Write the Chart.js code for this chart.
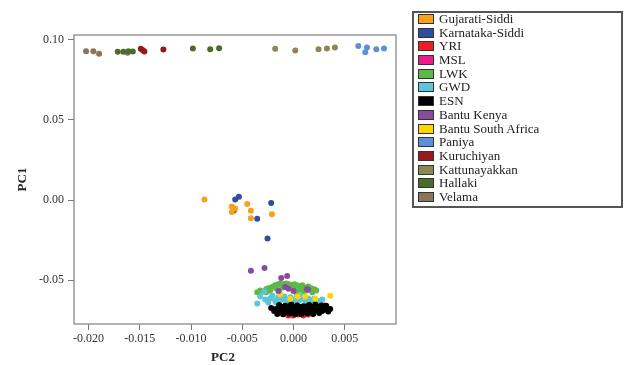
<!DOCTYPE html>
<html>
<head>
<meta charset="utf-8">
<script src="https://cdn.jsdelivr.net/npm/chart.js@4.4.1/dist/chart.umd.min.js"></script>
<style>
  body { margin: 0; background: #fff; }
  #wrap { position: relative; width: 625px; height: 365px; }
  #legend {
    position: absolute; left: 412px; top: 11px; width: 211px; height: 197px;
    border: 2px solid #555; box-sizing: border-box;
    font-family: "Liberation Serif", serif; font-size: 13px; color: #222;
  }
  #legend .items { position: relative; top: -1px; padding-left: 4px; }
  #legend .item { height: 13.7px; line-height: 13.7px; white-space: nowrap; }
  #legend .sw {
    display: inline-block; width: 14px; height: 8px; border: 1px solid #333;
    vertical-align: middle; margin-right: 5px; position: relative; top: -1px;
  }
</style>
</head>
<body>
<div id="wrap">
  <canvas id="pcaChart" width="625" height="365"></canvas>
  <div id="legend"><div class="items"></div></div>
</div>
<script>
// PC2 (x), PC1 (y)
const gujaratiSiddi = [
  [-0.00869, 0.0004], [-0.00602, -0.0040], [-0.00569, -0.0052], [-0.00602, -0.0075],
  [-0.00452, -0.0025], [-0.00416, -0.0067], [-0.00416, -0.0113], [-0.00211, -0.0088],
];
const karnatakaSiddi = [
  [-0.00569, 0.0004], [-0.00533, 0.0021], [-0.00582, -0.0065], [-0.00354, -0.0117],
  [-0.00218, -0.0019], [-0.00254, -0.0240],
];
const yri = [
  [-0.00052, -0.0719], [-0.00003, -0.0719], [0.00046, -0.0713], [0.00095, -0.0719],
  [0.00144, -0.0713], [0.00192, -0.0706], [-0.0011, -0.0706],
];
const msl = [
  [-0.00179, -0.0688], [-0.0013, -0.0700], [-0.00032, -0.0706], [0.00065, -0.0700],
  [0.00163, -0.0694], [0.00261, -0.0663], [0.0030, -0.0656], [-0.00081, -0.0675],
];
const lwk = [
  [-0.00354, -0.0575], [-0.00325, -0.0563], [-0.00296, -0.0569], [-0.00267, -0.0556],
  [-0.00247, -0.0550], [-0.00218, -0.0544], [-0.00198, -0.0538], [-0.00179, -0.0531],
  [-0.00149, -0.0525], [-0.0013, -0.0519], [-0.00101, -0.0525], [-0.00071, -0.0519],
  [-0.00042, -0.0525], [-0.00022, -0.0531], [0.00007, -0.0525], [0.00036, -0.0531],
  [0.00065, -0.0538], [0.00085, -0.0531], [0.00114, -0.0544], [0.00144, -0.0538],
  [0.00173, -0.0550], [0.00202, -0.0556], [0.00222, -0.0563], [-0.00228, -0.0563],
  [-0.00169, -0.0550], [-0.0011, -0.0544], [-0.00052, -0.0550], [0.00007, -0.0556],
  [0.00065, -0.0556], [0.00124, -0.0563], [0.00183, -0.0575], [-0.00267, -0.0575],
  [-0.0014, -0.0569], [0.00026, -0.0575], [0.00095, -0.0569],
];
const gwd = [
  [-0.00354, -0.0644], [-0.00325, -0.0600], [-0.00286, -0.0569], [-0.00276, -0.0619],
  [-0.00228, -0.0613], [-0.00208, -0.0594], [-0.00179, -0.0625], [-0.00149, -0.0606],
  [-0.0012, -0.0619], [-0.00091, -0.0600], [-0.00062, -0.0619], [-0.00032, -0.0606],
  [-0.00003, -0.0625], [0.00026, -0.0606], [0.00056, -0.0625], [0.00085, -0.0613],
  [0.00114, -0.0625], [0.00144, -0.0613], [0.00173, -0.0625], [0.00202, -0.0613],
  [0.00231, -0.0625], [0.00261, -0.0638], [0.0028, -0.0619], [-0.00169, -0.0638],
  [-0.00071, -0.0638], [0.00026, -0.0638], [0.00124, -0.0638], [0.00222, -0.0644],
  [-0.0013, -0.0588], [0.00065, -0.0594], [-0.00247, -0.0638],
];
const esn = [
  [-0.0014, -0.0653], [-0.00081, -0.0659], [-0.00022, -0.0650], [0.00036, -0.0656],
  [0.00095, -0.0662], [0.00153, -0.0653], [0.00212, -0.0650], [0.00271, -0.0656],
  [0.00319, -0.0659],
  [-0.0011, -0.0666], [-0.00052, -0.0663], [0.00007, -0.0669], [0.00065, -0.0666],
  [0.00124, -0.0663], [0.00183, -0.0669], [0.00241, -0.0666],
  [-0.00218, -0.0672], [-0.00169, -0.0678], [-0.0011, -0.0669], [-0.00052, -0.0675],
  [0.00007, -0.0681], [0.00065, -0.0672], [0.00124, -0.0678], [0.00183, -0.0669],
  [0.00241, -0.0675], [0.0030, -0.0672], [0.00358, -0.0678],
  [-0.00159, -0.0684], [-0.00101, -0.0687], [-0.00042, -0.0684], [0.00017, -0.0681],
  [0.00075, -0.0687], [0.00134, -0.0684], [0.00192, -0.0687], [0.00251, -0.0684],
  [0.0031, -0.0681],
  [-0.00189, -0.0691], [-0.0013, -0.0697], [-0.00071, -0.0694], [-0.00013, -0.0700],
  [0.00046, -0.0691], [0.00104, -0.0697], [0.00163, -0.0694], [0.00222, -0.0688],
  [0.0028, -0.0691], [0.00339, -0.0694],
  [-0.00159, -0.0709], [-0.00101, -0.0712], [-0.00042, -0.0706], [0.00017, -0.0712],
  [0.00075, -0.0709], [0.00134, -0.0706], [0.00192, -0.0709], [0.00251, -0.0703],
];
const bantuKenya = [
  [-0.00416, -0.0440], [-0.00283, -0.0423], [-0.00120, -0.0486], [-0.00062, -0.0473],
  [-0.00147, -0.0567], [-0.00081, -0.0542], [-0.00049, -0.0552], [0.00000, -0.0567],
  [0.00141, -0.0558], [0.00131, -0.0554],
];
const bantuSouthAfrica = [
  [-0.0013, -0.0588], [-0.00032, -0.0614], [0.00039, -0.0600], [0.00114, -0.0600],
  [0.00212, -0.0614], [0.00358, -0.0596],
];
const paniya = [
  [0.00632, 0.0960], [0.0070, 0.0921], [0.00717, 0.0950], [0.00808, 0.0939], [0.00883, 0.0944],
];
const kuruchiyan = [
  [-0.0149, 0.0942], [-0.0147, 0.0933], [-0.01455, 0.0925], [-0.0127, 0.0938],
];
const kattunayakkan = [
  [-0.00179, 0.0942], [0.00017, 0.0931], [0.00244, 0.0940], [0.00326, 0.0944], [0.00404, 0.0950],
];
const hallaki = [
  [-0.01715, 0.0923], [-0.0166, 0.0923], [-0.01611, 0.0927], [-0.01568, 0.0925],
  [-0.00982, 0.0944], [-0.00813, 0.0940], [-0.00726, 0.0945],
];
const velama = [
  [-0.02024, 0.0927], [-0.01953, 0.0927], [-0.01897, 0.0911], [-0.0162, 0.0917],
];

const grupos = [
  { nome: "Gujarati-Siddi", pontos: gujaratiSiddi, cor: "#F9A01B", ordem: 1 },
  { nome: "Karnataka-Siddi", pontos: karnatakaSiddi, cor: "#2F4E9F", ordem: 1 },
  { nome: "YRI", pontos: yri, cor: "#EE1C24", ordem: 5 },
  { nome: "MSL", pontos: msl, cor: "#EC1C8D", ordem: 5 },
  { nome: "LWK", pontos: lwk, cor: "#5DB947", ordem: 4 },
  { nome: "GWD", pontos: gwd, cor: "#5BC5DB", ordem: 3 },
  { nome: "ESN", pontos: esn, cor: "#000000", ordem: 2 },
  { nome: "Bantu Kenya", pontos: bantuKenya, cor: "#8A4A9E", ordem: 1 },
  { nome: "Bantu South Africa", pontos: bantuSouthAfrica, cor: "#FFD400", ordem: 1 },
  { nome: "Paniya", pontos: paniya, cor: "#5F8FD5", ordem: 1 },
  { nome: "Kuruchiyan", pontos: kuruchiyan, cor: "#96191C", ordem: 1 },
  { nome: "Kattunayakkan", pontos: kattunayakkan, cor: "#8C8753", ordem: 1 },
  { nome: "Hallaki", pontos: hallaki, cor: "#4B6B2B", ordem: 1 },
  { nome: "Velama", pontos: velama, cor: "#8A7559", ordem: 1 },
];

const xTicks = [-0.02, -0.015, -0.01, -0.005, 0, 0.005];
const yTicks = [-0.05, 0, 0.05, 0.1];

const fonte = "'Liberation Serif', 'Times New Roman', serif";

// frame round the plot area, plus the PC2 title (sits a bit left of centre in the original)
const molduraPlugin = {
  id: "moldura",
  afterDraw(chart) {
    const { ctx, chartArea } = chart;
    ctx.save();
    ctx.strokeStyle = "#8a8a8a";
    ctx.lineWidth = 1.3;
    ctx.strokeRect(chartArea.left, chartArea.top, chartArea.right - chartArea.left, chartArea.bottom - chartArea.top);

    ctx.fillStyle = "#222";
    ctx.font = "bold 13px " + fonte;
    ctx.textAlign = "center";
    ctx.textBaseline = "middle";
    ctx.fillText("PC2", 223, 358);
    ctx.restore();
  },
};

function loadPcaChart() {
  const ctx = document.getElementById("pcaChart");

  const chart = new Chart(ctx.getContext("2d"), {
    type: "scatter",
    data: {
      datasets: grupos.map((g) => ({
        label: g.nome,
        data: g.pontos.map((p) => ({ x: p[0], y: p[1] })),
        backgroundColor: g.cor,
        borderWidth: 0,
        pointRadius: 3,
        order: g.ordem,
      })),
    },
    options: {
      responsive: false,
      animation: false,
      layout: { padding: { left: 0, right: 229, top: 35, bottom: 0 } },
      plugins: {
        legend: { display: false },
        tooltip: { enabled: false },
      },
      scales: {
        x: {
          type: "linear",
          min: -0.02142,
          max: 0.0100,
          afterBuildTicks: (scale) => { scale.ticks = xTicks.map((v) => ({ value: v })); },
          afterFit: (scale) => { scale.height = 41; },
          ticks: {
            font: { family: fonte, size: 12 },
            color: "#333",
            padding: 2,
            maxRotation: 0,
            callback: (v) => Number(v).toFixed(3),
          },
          grid: { drawOnChartArea: false, drawTicks: true, tickLength: 6, color: "#777" },
          border: { display: false },
          title: { display: false },
        },
        y: {
          type: "linear",
          min: -0.0772,
          max: 0.1028,
          afterBuildTicks: (scale) => { scale.ticks = yTicks.map((v) => ({ value: v })); },
          afterFit: (scale) => { scale.width = 74; },
          ticks: {
            font: { family: fonte, size: 12 },
            color: "#333",
            padding: 4,
            callback: (v) => Number(v).toFixed(2),
          },
          grid: { drawOnChartArea: false, drawTicks: true, tickLength: 6, color: "#777" },
          border: { display: false },
          title: {
            display: true,
            text: "PC1",
            font: { family: fonte, size: 13, weight: "bold" },
            color: "#222",
            padding: { top: 15, bottom: 0 },
          },
        },
      },
    },
    plugins: [molduraPlugin],
  });

  const lista = document.querySelector("#legend .items");
  chart.data.datasets.forEach((ds) => {
    const item = document.createElement("div");
    item.className = "item";
    const sw = document.createElement("span");
    sw.className = "sw";
    sw.style.background = ds.backgroundColor;
    item.appendChild(sw);
    item.appendChild(document.createTextNode(ds.label));
    lista.appendChild(item);
  });
}

loadPcaChart();
</script>
</body>
</html>
